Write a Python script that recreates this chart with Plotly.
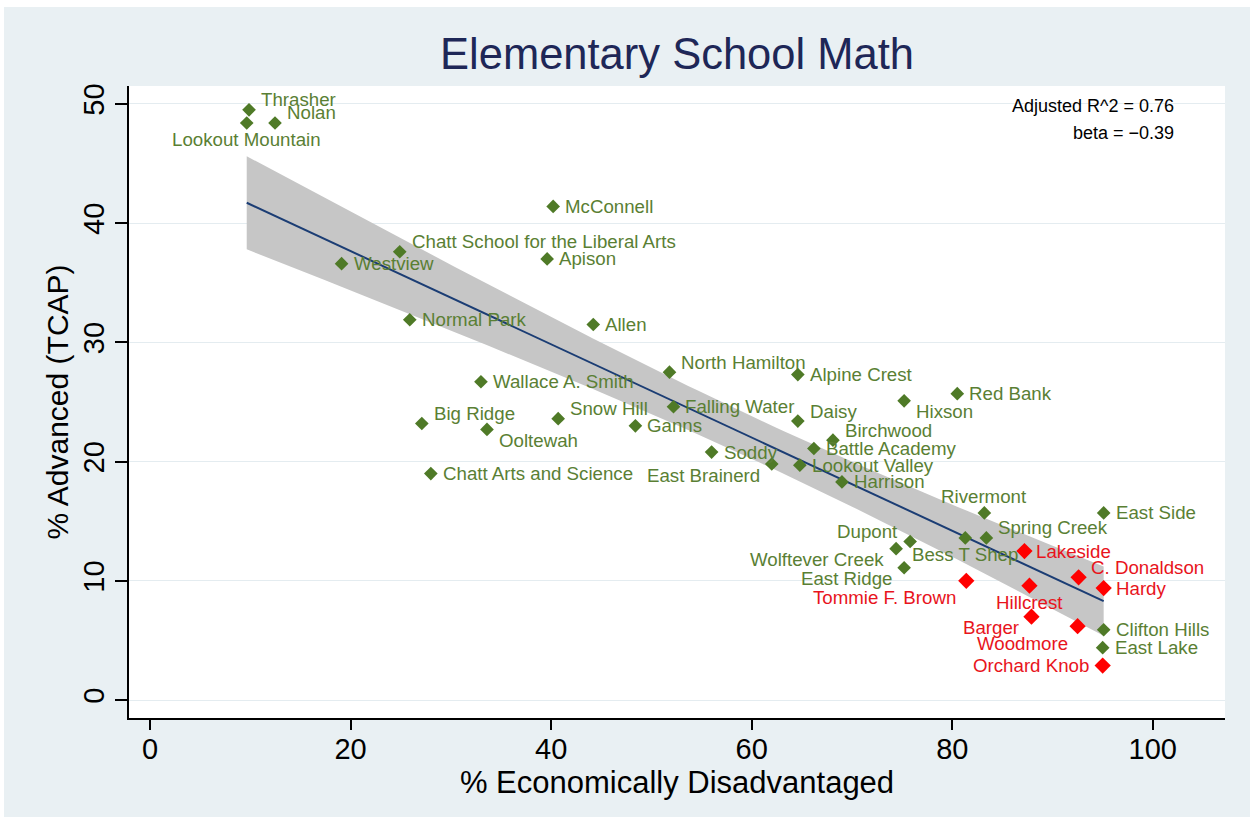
import numpy as np
import plotly.graph_objects as go

# Schools not in the priority group (green)
green_names = [
    "Thrasher", "Lookout Mountain", "Nolan", "McConnell",
    "Chatt School for the Liberal Arts", "Westview", "Apison", "Normal Park",
    "Allen", "North Hamilton", "Wallace A. Smith", "Big Ridge", "Ooltewah",
    "Snow Hill", "Falling Water", "Ganns", "Chatt Arts and Science", "Soddy",
    "East Brainerd", "Lookout Valley", "Alpine Crest", "Daisy", "Birchwood",
    "Battle Academy", "Harrison", "Hixson", "Red Bank", "Rivermont",
    "East Side", "Spring Creek", "Bess T Shep", "Dupont", "Wolftever Creek",
    "East Ridge", "Clifton Hills", "East Lake",
]
green_x = [
    9.87, 9.64, 12.46, 40.2, 24.9, 19.1, 39.6, 25.9, 44.2, 51.8, 33.0, 27.1,
    33.6, 40.7, 52.2, 48.4, 28.0, 56.0, 62.0, 64.8, 64.6, 64.6, 68.1, 66.2,
    69.0, 75.2, 80.5, 83.2, 95.1, 83.4, 81.3, 75.8, 74.4, 75.2, 95.1, 95.0,
]
green_y = [
    49.5, 48.4, 48.4, 41.4, 37.6, 36.6, 37.0, 31.9, 31.5, 27.5, 26.7, 23.2,
    22.7, 23.6, 24.6, 23.0, 19.0, 20.8, 19.8, 19.7, 27.3, 23.4, 21.8, 21.1,
    18.3, 25.1, 25.7, 15.7, 15.7, 13.6, 13.6, 13.3, 12.7, 11.1, 5.9, 4.4,
]

# Priority schools (red)
red_names = [
    "Lakeside", "C. Donaldson", "Hardy", "Tommie F. Brown", "Hillcrest",
    "Barger", "Woodmore", "Orchard Knob",
]
red_x = [87.2, 92.6, 95.1, 81.4, 87.7, 87.9, 92.5, 95.0]
red_y = [12.5, 10.3, 9.4, 10.0, 9.6, 7.0, 6.2, 2.9]

x_ticks = [0, 20, 40, 60, 80, 100]
y_ticks = [0, 10, 20, 30, 40, 50]

stat_lines = ["Adjusted R^2 = 0.76", "beta = \u22120.39"]

# Clock position of each marker label (default: 3 o'clock)
label_clock = {
    "Thrasher": 2, "Nolan": 2, "Lookout Mountain": 6,
    "Chatt School for the Liberal Arts": 2, "North Hamilton": 2,
    "Big Ridge": 2, "Ooltewah": 4, "Snow Hill": 2, "East Brainerd": 8,
    "Daisy": 2, "Birchwood": 2, "Hixson": 4, "Rivermont": 12,
    "Spring Creek": 2, "Bess T Shep": 6, "Dupont": 10,
    "Wolftever Creek": 8, "East Ridge": 8, "C. Donaldson": 2,
    "Tommie F. Brown": 7, "Hillcrest": 6, "Barger": 8, "Woodmore": 7,
    "Orchard Knob": 9,
}
clock_offsets = {
    3: ("left", 10, 0), 2: ("left", 10, 10), 4: ("left", 10, -11),
    12: ("center", 0, 16), 6: ("center", 0, -17), 8: ("right", -10, -11),
    9: ("right", -12, 0), 10: ("right", -10, 10), 7: ("right", -8, -17),
}

FONT = "Liberation Sans, Arial, Helvetica, sans-serif"
GREEN_MARK = "#4f7a27"
GREEN_TEXT = "#5a7f34"
RED_MARK = "#ff0000"
RED_TEXT = "#e8141c"

# Linear fit with 95% confidence interval over all schools
all_x = np.array(green_x + red_x)
all_y = np.array(green_y + red_y)
n = len(all_x)
slope, intercept = np.polyfit(all_x, all_y, 1)
resid = all_y - (intercept + slope * all_x)
s = np.sqrt(np.sum(resid ** 2) / (n - 2))
sxx = np.sum((all_x - all_x.mean()) ** 2)
T_CRIT = 2.018  # t(0.975, 42 df)
fit_x = np.linspace(all_x.min(), all_x.max(), 100)
fit_y = intercept + slope * fit_x
half = T_CRIT * s * np.sqrt(1.0 / n + (fit_x - all_x.mean()) ** 2 / sxx)

fig = go.Figure()
fig.add_trace(go.Scatter(
    x=np.concatenate([fit_x, fit_x[::-1]]),
    y=np.concatenate([fit_y + half, (fit_y - half)[::-1]]),
    fill="toself", fillcolor="rgb(198,198,198)", mode="lines",
    line=dict(width=0), hoverinfo="skip",
))
fig.add_trace(go.Scatter(
    x=fit_x, y=fit_y, mode="lines", line=dict(color="#1b3d74", width=2),
    hoverinfo="skip",
))
fig.add_trace(go.Scatter(
    x=green_x, y=green_y, mode="markers", text=green_names,
    marker=dict(symbol="diamond", size=10.5, color=GREEN_MARK),
))
fig.add_trace(go.Scatter(
    x=red_x, y=red_y, mode="markers", text=red_names,
    marker=dict(symbol="diamond", size=12.5, color=RED_MARK),
))

annotations = []
for names, xs, ys, col in [(green_names, green_x, green_y, GREEN_TEXT),
                           (red_names, red_x, red_y, RED_TEXT)]:
    for nm, xv, yv in zip(names, xs, ys):
        anchor, dx, dy = clock_offsets[label_clock.get(nm, 3)]
        annotations.append(dict(
            x=xv, y=yv, xref="x", yref="y", text=nm, showarrow=False,
            xanchor=anchor, yanchor="middle", xshift=dx, yshift=dy,
            font=dict(family=FONT, size=18.7, color=col),
        ))

for i, line in enumerate(stat_lines):
    annotations.append(dict(
        x=(1176 - 129) / 1096, y=(718 - 106 - 27 * i) / 632,
        xref="paper", yref="paper", text=line, showarrow=False,
        xanchor="right", yanchor="middle",
        font=dict(family=FONT, size=18, color="black"),
    ))

# thin white frame around the outer background
W, H, L, R, T, B = 1254, 822, 129, 29, 86, 104
pw, ph = W - L - R, H - T - B
def px_x(p):
    return (p - L) / pw
def px_y(p):
    return (H - B - p) / ph
shapes = []
for (x0, y0, x1, y1) in [(0, 0, W, 7), (0, H - 5, W, H), (0, 0, 4, H), (W - 4, 0, W, H)]:
    shapes.append(dict(type="rect", xref="paper", yref="paper",
                       x0=px_x(x0), x1=px_x(x1), y0=px_y(y1), y1=px_y(y0),
                       fillcolor="white", line=dict(width=0), layer="above"))

fig.update_layout(
    width=W, height=H,
    margin=dict(l=L, r=R, t=T, b=B),
    paper_bgcolor="#e9f0f3", plot_bgcolor="white",
    showlegend=False,
    font=dict(family=FONT, color="black"),
    title=dict(text="Elementary School Math", x=0.5, xref="paper",
               y=1 - 54 / H, yref="container", yanchor="middle",
               xanchor="center",
               font=dict(family=FONT, size=43.5, color="#1e2757")),
    annotations=annotations,
    shapes=shapes,
    xaxis=dict(
        range=[-2.1, 107.2], tickvals=x_ticks, ticks="outside", ticklen=10,
        tickwidth=1.5, tickcolor="black", showline=True, linecolor="black",
        linewidth=1.5, showgrid=False, zeroline=False, ticklabelstandoff=-6,
        tickfont=dict(size=29, color="black"),
        title=dict(text="% Economically Disadvantaged", standoff=0,
                   font=dict(size=31, color="black")),
    ),
    yaxis=dict(
        range=[-1.5, 51.5], tickvals=y_ticks, tickangle=-90, ticks="outside",
        ticklen=12, tickwidth=1.5, tickcolor="black", showline=True,
        linecolor="black", linewidth=1.5, showgrid=True, gridcolor="#e4ecf0",
        gridwidth=1, zeroline=False,
        tickfont=dict(size=29, color="black"),
        title=dict(text="% Advanced (TCAP)", standoff=0,
                   font=dict(size=30, color="black")),
    ),
)

fig.write_html("out.html")
